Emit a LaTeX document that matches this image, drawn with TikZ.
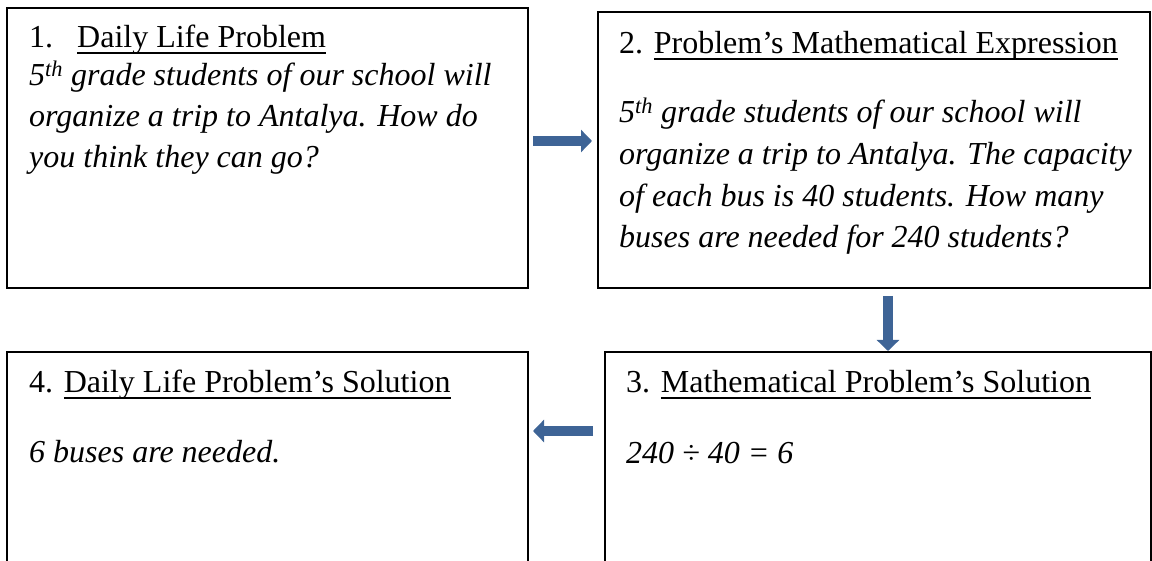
\documentclass[tikz,border=0pt]{standalone}
\usepackage{fontspec}
\setmainfont{Liberation Serif}
\newsavebox{\myulbox}
\newcommand{\myul}[1]{\sbox{\myulbox}{#1}\rlap{\rule[-5.6pt]{\wd\myulbox}{1.7pt}}\usebox{\myulbox}}
\usetikzlibrary{arrows.meta,calc}
\definecolor{arrowblue}{RGB}{62,100,150}
\begin{document}
\begin{tikzpicture}[x=1pt,y=-1pt,
  box/.style={draw=black, line width=1.6pt, rectangle, inner sep=0pt, outer sep=0pt, anchor=north west},
  txt/.style={anchor=base west, inner sep=0pt, align=left, font=\fontsize{32}{41}\selectfont},
  flow/.style={draw=arrowblue, line width=9.5pt, -{Triangle[length=11pt,width=22pt]}}]
\useasboundingbox (0,0) rectangle (1152,561);
\clip (0,0) rectangle (1152,561);
\node[box, minimum width=521pt, minimum height=280pt] (b1) at (7,8) {};
\node[box, minimum width=552pt, minimum height=276pt] (b2) at (598,12) {};
\node[box, minimum width=546pt, minimum height=260pt] (b3) at (605,352) {};
\node[box, minimum width=521pt, minimum height=260pt] (b4) at (7,352) {};
% texts (multi-line nodes are placed by the baseline of their last line)
\node[txt] (t1h) at (29,48) {\makebox[48pt][l]{1.}\myul{Daily Life Problem}};
\node[txt] (t1b) at (29,168) {\itshape 5\textsuperscript{th} grade students of our school will\\ \itshape organize a trip to Antalya. How do\\ \itshape you think they can go?};
\node[txt] (t2h) at (619,54) {2. \myul{Problem’s Mathematical Expression}};
\node[txt, font=\fontsize{32}{41.7}\selectfont] (t2b) at (619,248) {\itshape 5\textsuperscript{th} grade students of our school will\\ \itshape organize a trip to Antalya. The capacity\\ \itshape of each bus is 40 students. How many\\ \itshape buses are needed for 240 students?};
\node[txt] (t3h) at (626,393) {3. \myul{Mathematical Problem’s Solution}};
\node[txt] (t3b) at (626,463) {\itshape 240 ÷ 40 = 6};
\node[txt] (t4h) at (29,393) {4. \myul{Daily Life Problem’s Solution}};
\node[txt] (t4b) at (29,462) {\itshape 6 buses are needed.};
% arrows
\draw[flow] ($(b1.north east)+(5,133)$) -- ($(b2.north west)+(-6,129)$);
\draw[flow] ($(b2.south west)+(290,8)$) -- ($(b3.north west)+(283,-1)$);
\draw[flow] ($(b3.north west)+(-12,79)$) -- ($(b4.north east)+(5,79)$);
\end{tikzpicture}
\end{document}
